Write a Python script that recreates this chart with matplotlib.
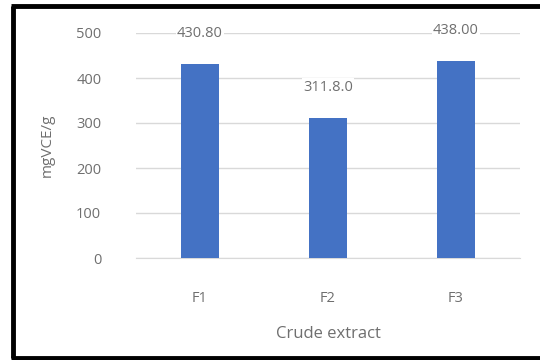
import matplotlib
matplotlib.use("Agg")
import matplotlib.pyplot as plt

plt.rcParams['font.family'] = ['Open Sans', 'DejaVu Sans']

categories = ['F1', 'F2', 'F3']
values = [430.80, 311.80, 438.00]
value_labels = ['430.80', '311.8.0', '438.00']
y_ticks = [0, 100, 200, 300, 400, 500]

text_grey = '#6f6f6f'
bar_blue = '#4472C4'

fig = plt.figure(figsize=(5.4, 3.6), dpi=100)
ax = fig.add_axes([136 / 540, 1 - 258 / 360, 384 / 540, 225 / 360])

x = range(len(categories))
bars = ax.bar(x, values, width=0.3, color=bar_blue, zorder=3)
for rect, lab in zip(bars, value_labels):
    ax.annotate(lab, (rect.get_x() + rect.get_width() / 2, rect.get_height()),
                xytext=(0, 22), textcoords='offset points',
                ha='center', va='center', fontsize=10.5, color=text_grey,
                zorder=4, bbox=dict(facecolor='white', edgecolor='none', pad=1))

ax.set_xlim(-0.5, 2.5)
ax.set_ylim(0, 500)
ax.set_xticks(list(x))
ax.set_xticklabels(categories)
ax.set_yticks(y_ticks)
ax.yaxis.grid(True, color='#d9d9d9', linewidth=1, zorder=0)
ax.tick_params(length=0, labelsize=10.5, labelcolor=text_grey)
ax.tick_params(axis='y', pad=25)
ax.tick_params(axis='x', pad=24)
for side in ['left', 'right', 'top']:
    ax.spines[side].set_visible(False)
ax.spines['bottom'].set_color('#d9d9d9')

ax.set_xlabel('Crude extract', fontsize=12, color=text_grey, labelpad=14)
ax.set_ylabel('mgVCE/g', fontsize=11, color=text_grey, labelpad=15)

# outer frame, open on the right side
frame_kw = dict(color='black', linewidth=3.5, transform=fig.transFigure,
                solid_capstyle='butt')
fig.add_artist(plt.Line2D([13 / 540, 13 / 540], [1 - 5.5 / 360, 1 - 357.5 / 360], **frame_kw))
fig.add_artist(plt.Line2D([11 / 540, 1], [1 - 5.5 / 360, 1 - 5.5 / 360], **frame_kw))
fig.add_artist(plt.Line2D([11 / 540, 1], [1 - 357.5 / 360, 1 - 357.5 / 360], **frame_kw))

fig.savefig('out.png', dpi=100)
